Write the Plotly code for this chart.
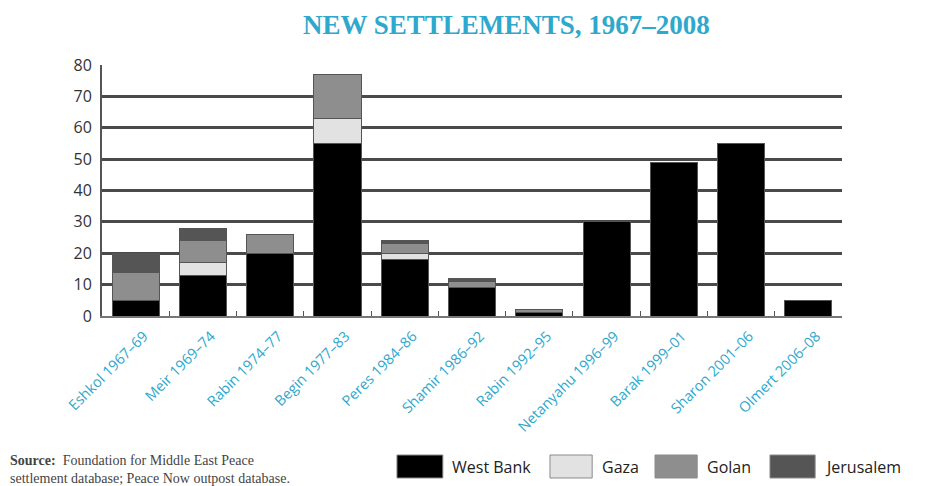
import plotly.graph_objects as go

categories = ["Eshkol 1967–69", "Meir 1969–74", "Rabin 1974–77", "Begin 1977–83",
              "Peres 1984–86", "Shamir 1986–92", "Rabin 1992–95", "Netanyahu 1996–99",
              "Barak 1999–01", "Sharon 2001–06", "Olmert 2006–08"]
west_bank = [5, 13, 20, 55, 18, 9, 1, 30, 49, 55, 5]
gaza      = [0, 4, 0, 8, 2, 0, 0, 0, 0, 0, 0]
golan     = [9, 7, 6, 14, 3, 2, 1, 0, 0, 0, 0]
jerusalem = [6, 4, 0, 0, 1, 1, 0, 0, 0, 0, 0]
y_ticks = [0, 10, 20, 30, 40, 50, 60, 70, 80]

series = [("West Bank", west_bank, "#000000"),
          ("Gaza", gaza, "#e2e2e2"),
          ("Golan", golan, "#8e8e8e"),
          ("Jerusalem", jerusalem, "#555555")]

teal = "#2ea8cc"
fig = go.Figure()
for name, vals, col in series:
    fig.add_trace(go.Bar(x=categories, y=vals, name=name, marker_color=col,
                         marker_line=dict(color="#555555", width=1),
                         showlegend=False))

fig.update_layout(
    barmode="stack", bargap=0.3,
    width=928, height=486,
    margin=dict(l=94, r=94, t=57, b=178),
    paper_bgcolor="white", plot_bgcolor="white",
    title=dict(text="<b>NEW SETTLEMENTS, 1967–2008</b>", x=0.537, xanchor="center",
               y=0.965, yanchor="middle",
               font=dict(family="Liberation Serif", size=27, color=teal)),
)
fig.update_xaxes(type="category", tickangle=-45, tickson="boundaries",
                 ticks="inside", ticklen=5, tickcolor="#555555", tickwidth=1,
                 showline=True, linecolor="#777777", linewidth=2,
                 ticklabelshift=8, ticklabelstandoff=4,
                 tickfont=dict(family="Open Sans", size=14.5, color=teal),
                 showgrid=False)
fig.update_yaxes(range=[0, 80], tickvals=y_ticks, showgrid=True, gridcolor="#4a4a4a",
                 gridwidth=2.5, zeroline=False, showline=True, linecolor="#555555",
                 linewidth=2, ticks="", ticklen=0, ticklabelstandoff=5,
                 tickfont=dict(family="Open Sans", size=16, color="#333333"))

# manual legend (large swatches like the original)
box_x = [0.3986, 0.6054, 0.7473, 0.9027]
box_w = [0.062, 0.057, 0.057, 0.061]
for (name, vals, col), bx, bw in zip(series, box_x, box_w):
    fig.add_shape(type="rect", xref="paper", yref="paper",
                  x0=bx, x1=bx + bw, y0=-0.6454, y1=-0.5538,
                  fillcolor=col, line=dict(color="#8a8a8a", width=1))
    fig.add_annotation(text=name, xref="paper", yref="paper", x=bx + bw + 0.010, y=-0.6,
                       xanchor="left", yanchor="middle", showarrow=False,
                       font=dict(family="Open Sans", size=16, color="#222222"))

fig.add_annotation(
    text="<b>Source:</b>  Foundation for Middle East Peace<br>settlement database; Peace Now outpost database.",
    xref="paper", yref="paper", x=-0.127, y=-0.685, xanchor="left", yanchor="bottom",
    align="left", showarrow=False,
    font=dict(family="Liberation Serif", size=14, color="#444444"))

fig.write_html("out.html")
